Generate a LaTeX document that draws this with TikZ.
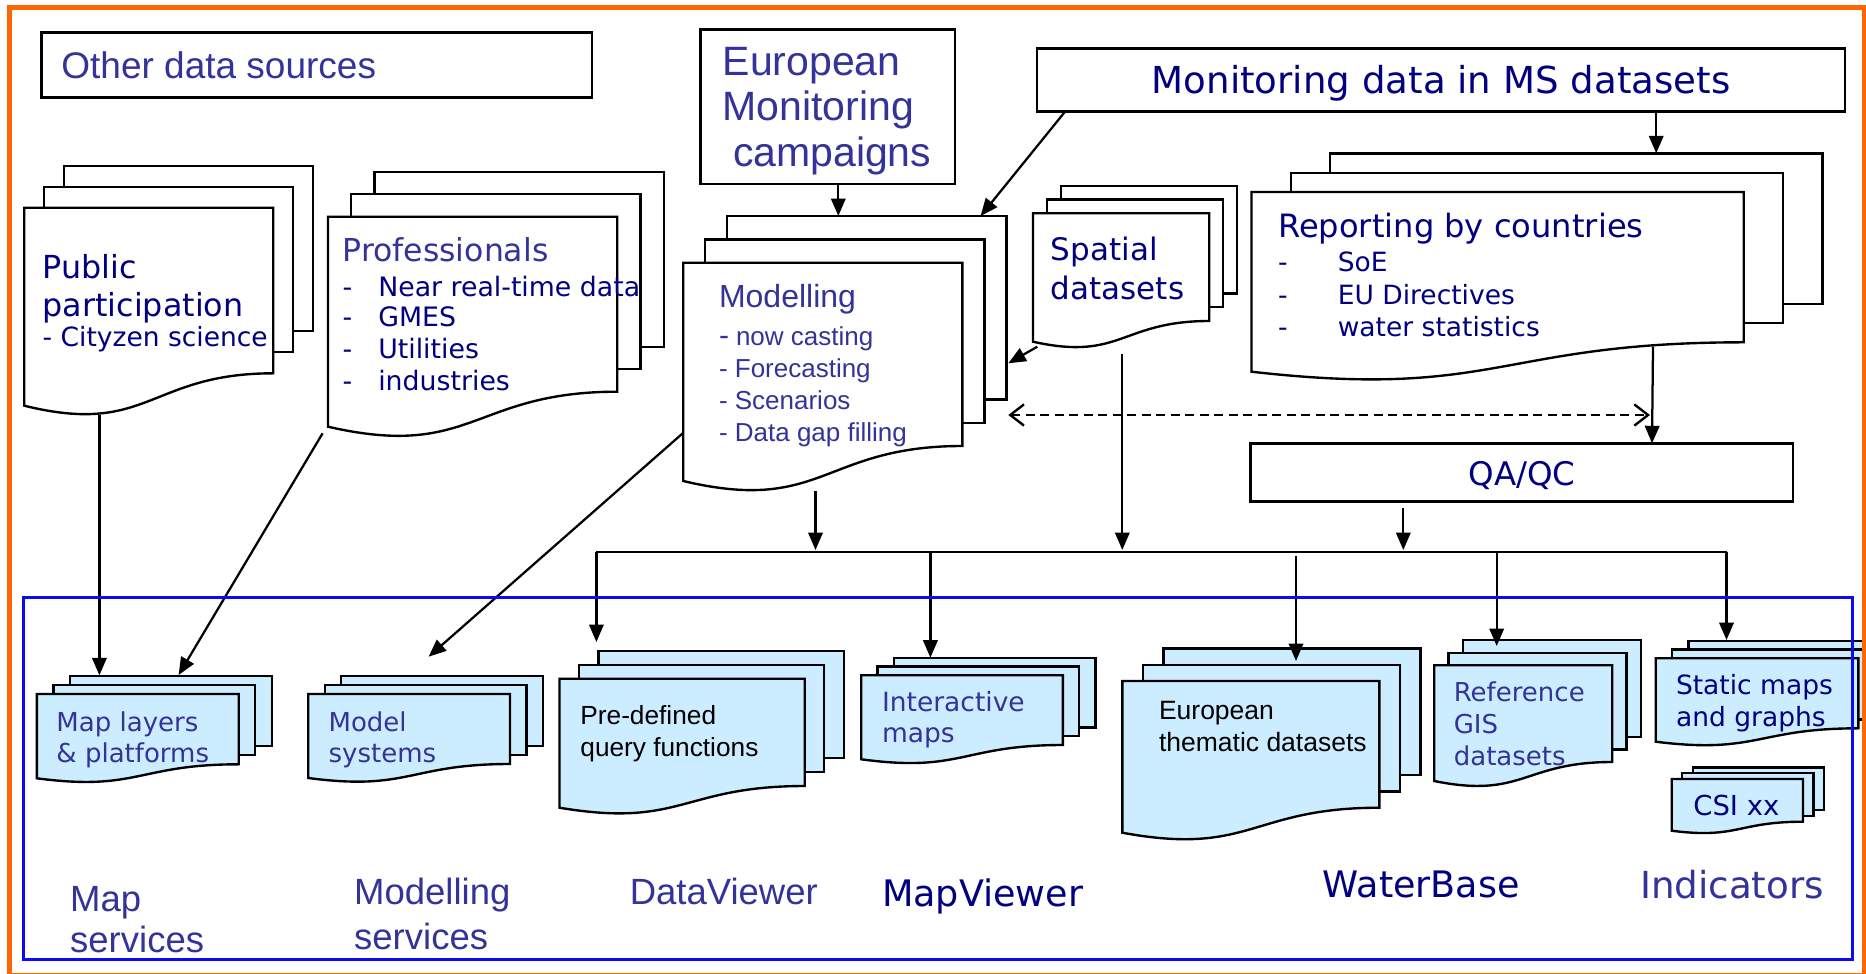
\documentclass[tikz,border=0pt]{standalone}
\usepackage{fontspec}
\setmainfont{Liberation Sans}
\newfontfamily\ver{DejaVu Sans}
\newfontfamily\ari{Liberation Sans}
\usetikzlibrary{arrows.meta}
\definecolor{navy}{RGB}{0,0,128}
\definecolor{cb}{RGB}{51,51,153}
\definecolor{lblue}{RGB}{204,236,255}
\definecolor{orng}{RGB}{255,102,0}
\definecolor{fblue}{RGB}{10,10,245}
% multi-document shape: x0, ytop, x1, yRight, yLeft, dx, dy, fill
\newcommand{\mdoc}[8]{%
  \draw[docline,fill=#8] ({#1+2*(#6)},{#2+2*(#7)}) rectangle ({#3+2*(#6)},{#4+2*(#7)});
  \draw[docline,fill=#8] ({#1+(#6)},{#2+(#7)}) rectangle ({#3+(#6)},{#4+(#7)});
  \draw[docline,fill=#8] (#1,#2) -- (#3,#2) -- (#3,#4)
     .. controls ({(#1+#3)/2},#4) and ({(#1+#3)/2},{#5+0.95*(#5-#4)}) .. (#1,#5) -- cycle;
}
\tikzset{
  tx/.style={anchor=base west, inner sep=0pt, outer sep=0pt},
  V/.style={font=\ver\fontsize{#1}{#1}\selectfont},
  A/.style={font=\ari\fontsize{#1}{#1}\selectfont},
  docline/.style={draw=black, line width=0.95pt},
  boxline/.style={draw=black, line width=1.1pt},
  conn/.style={line width=0.9pt, -{Triangle[length=7pt,width=5.8pt]}},
  plain/.style={line width=0.9pt},
  dconn/.style={line width=0.95pt, dash pattern=on 3.6pt off 2.2pt,
     {Straight Barb[length=5.5pt,width=8.5pt,line width=0.95pt]}-{Straight Barb[length=5.5pt,width=8.5pt,line width=0.95pt]}},
}
\begin{document}
\begin{tikzpicture}[x=0.4pt,y=-0.4pt]
\useasboundingbox (0,0) rectangle (1866,973);
\fill[white] (0,0) rectangle (1866,973);

% ---------- top boxes ----------
\draw[boxline] (41.5,32.3) rectangle (592,97.3);
\node[tx,A=14.8,text=cb] (ods) at (61.4,78.3) {Other data sources};

\draw[boxline] (700.7,29.3) rectangle (955,184);
\node[tx,A=16.4,text=cb] (emc1) at (722.7,75) {European};
\node[tx,A=16.4,text=cb] (emc2) at (722.7,120.7) {Monitoring};
\node[tx,A=16.4,text=cb] (emc3) at (733,166.7) {campaigns};

\draw[boxline] (1037,48.3) rectangle (1845,111.7);
\node[tx,V=14.85,text=navy] (mon) at (1151.8,93.3) {Monitoring data in MS datasets};

% ---------- top documents ----------
\mdoc{24.3}{207.7}{273.3}{373.3}{405.7}{20}{-21}{white}
\node[tx,V=12.7,text=navy] (pp1) at (42.7,278.3) {Public};
\node[tx,V=12.7,text=navy] (pp2) at (42.7,316) {participation};
\node[tx,V=10.6,text=navy] (pp3) at (42.7,346.7) {- Cityzen science};

\mdoc{328}{216.7}{617.3}{391.7}{426.7}{23.3}{-22.5}{white}
\node[tx,V=12.6,text=cb] (pr0) at (342.7,261.7) {Professionals};
\node[tx,V=10.7,text=navy] (prd1) at (342.7,296) {-};
\node[tx,V=10.7,text=navy] (prd2) at (342.7,326.7) {-};
\node[tx,V=10.7,text=navy] (prd3) at (342.7,358.3) {-};
\node[tx,V=10.7,text=navy] (prd4) at (342.7,390) {-};
\node[tx,V=10.7,text=navy] (pr1) at (378.3,296) {Near real-time data};
\node[tx,V=10.7,text=navy] (pr2) at (378.3,326.7) {GMES};
\node[tx,V=10.7,text=navy] (pr3) at (378.3,358.3) {Utilities};
\node[tx,V=10.7,text=navy] (pr4) at (378.3,390) {industries};

\mdoc{683.3}{262.7}{962.3}{446}{481}{22}{-23.3}{white}
\node[tx,A=12.8,text=cb] (md0) at (719,307.3) {Modelling};
\node[tx,A=10.4,text=cb] (md1) at (719,345.7) {{\fontsize{12}{12}\selectfont -}\hspace{2.8pt}now casting};
\node[tx,A=10.4,text=cb] (md2) at (719,377.7) {- Forecasting};
\node[tx,A=10.4,text=cb] (md3) at (719,409.3) {- Scenarios};
\node[tx,A=10.4,text=cb] (md4) at (719,441.7) {- Data gap filling};

\mdoc{1033}{213.3}{1209.2}{321}{341.7}{14}{-13.8}{white}
\node[tx,V=12.4,text=navy] (sp1) at (1050.9,260) {Spatial};
\node[tx,V=12.4,text=navy] (sp2) at (1050.9,299.3) {datasets};

\mdoc{1251.5}{192}{1743.7}{342.3}{371.7}{39.3}{-19.3}{white}
\node[tx,V=12.85,text=navy] (rp0) at (1278.2,237.3) {Reporting by countries};
\node[tx,V=10.6,text=navy] (rpd1) at (1278,271.7) {-};
\node[tx,V=10.6,text=navy] (rpd2) at (1278,304) {-};
\node[tx,V=10.6,text=navy] (rpd3) at (1278,336) {-};
\node[tx,V=10.6,text=navy] (rp1) at (1337.8,271.7) {SoE};
\node[tx,V=10.6,text=navy] (rp2) at (1337.8,304) {EU Directives};
\node[tx,V=10.6,text=navy] (rp3) at (1337.8,336) {water statistics};

\draw[boxline] (1250.7,443.3) rectangle (1793,501.5);
\node[anchor=base,inner sep=0pt,V=13,text=navy] (qa) at (1522,485.5) {QA/QC};

% ---------- bottom documents ----------
\mdoc{36.9}{694}{238.7}{764.3}{778.3}{16.5}{-9}{lblue}
\node[tx,V=10.4,text=cb] (ml1) at (56.5,731) {Map layers};
\node[tx,V=10.4,text=cb] (ml2) at (56.5,762.7) {\& platforms};

\mdoc{308.3}{694}{510}{764}{778}{16.5}{-9}{lblue}
\node[tx,V=10.4,text=cb] (ms1) at (328.6,731) {Model};
\node[tx,V=10.4,text=cb] (ms2) at (328.6,762.7) {systems};

\mdoc{559.5}{678.7}{804.8}{786}{807.7}{19.5}{-14}{lblue}
\node[tx,A=10.5,text=black] (pd1) at (580.4,724.3) {Pre-defined};
\node[tx,A=10.5,text=black] (pd2) at (580.4,756) {query functions};

\mdoc{861.3}{675.3}{1062.8}{745}{759.3}{16.3}{-8.8}{lblue}
\node[tx,V=10.6,text=cb] (im1) at (882,711) {Interactive};
\node[tx,V=10.6,text=cb] (im2) at (882,742.7) {maps};

\mdoc{1122.3}{681}{1379.4}{807.7}{832.7}{20.5}{-16.2}{lblue}
\node[tx,A=10.6,text=black] (et1) at (1159,719.3) {European};
\node[tx,A=10.6,text=black] (et2) at (1159,751.7) {thematic datasets};

\mdoc{1434.2}{665.3}{1612.2}{762}{781}{14.3}{-12.5}{lblue}
\node[tx,V=10.4,text=cb] (rg1) at (1453.8,701) {Reference};
\node[tx,V=10.4,text=cb] (rg2) at (1453.8,733.3) {GIS};
\node[tx,V=10.4,text=cb] (rg3) at (1453.8,765.3) {datasets};

\mdoc{1655.7}{658.3}{1858.3}{728.3}{741.7}{16.3}{-8.8}{lblue}
\node[tx,V=10.6,text=navy] (sm1) at (1676,694) {Static maps};
\node[tx,V=10.6,text=navy] (sm2) at (1676,726) {and graphs};

\mdoc{1671.7}{779}{1803}{821.7}{830.7}{10.5}{-5.7}{lblue}
\node[tx,V=11,text=navy] (csi) at (1693.3,815) {CSI xx};

% ---------- group labels ----------
\node[tx,A=14.6,text=cb] (L1a) at (70.2,911) {Map};
\node[tx,A=14.6,text=cb] (L1b) at (70.2,952.7) {services};
\node[tx,A=14.6,text=cb] (L2a) at (354.2,904.3) {Modelling};
\node[tx,A=14.6,text=cb] (L2b) at (354.2,949.3) {services};
\node[tx,A=14.6,text=cb] (L3) at (629.8,904.3) {DataViewer};
\node[tx,V=14.6,text=navy] (L4) at (882,906.7) {MapViewer};
\node[tx,V=14.6,text=navy] (L5) at (1322.9,897.7) {WaterBase};
\node[tx,V=14.9,text=cb] (L6) at (1640,898.7) {Indicators};

% ---------- connection points ----------
\coordinate (emcB) at (838.3,184);
\coordinate (modT) at (838.3,216);
\coordinate (monBL) at (1065,111.7);
\coordinate (modTR) at (980.6,216);
\coordinate (monB) at (1656.2,111.7);
\coordinate (repT) at (1656.2,153.3);
\coordinate (spaBL) at (1037.3,346.7);
\coordinate (modR) at (1008.3,363.3);
\coordinate (dL) at (1008.3,415);
\coordinate (dR) at (1650,415);
\coordinate (repB) at (1653,346.7);
\coordinate (qaT) at (1652,443.3);
\coordinate (spaB) at (1122.3,354);
\coordinate (spaBus) at (1122.3,550);
\coordinate (modB) at (815.5,491);
\coordinate (modBus) at (815.5,550);
\coordinate (qaB) at (1403.3,508.3);
\coordinate (qaBus) at (1403.3,550);
\coordinate (busL) at (596.4,551.7);
\coordinate (busR) at (1726.5,551.7);
\coordinate (bus2) at (930.4,551.7);
\coordinate (bus3) at (1296,556);
\coordinate (bus4) at (1496.7,551.7);
\coordinate (pdT) at (596.4,642);
\coordinate (imT) at (930.4,657.7);
\coordinate (etT) at (1296,661);
\coordinate (rgT) at (1496.7,646);
\coordinate (smT) at (1726.5,640);
\coordinate (ppB) at (99.4,415);
\coordinate (mlT1) at (99.4,675.3);
\coordinate (prB) at (322.6,433.3);
\coordinate (mlT2) at (178.6,675);
\coordinate (mdL) at (682.7,433.3);
\coordinate (msT) at (428.6,656.7);

% ---------- connectors ----------
\draw[conn] (emcB) -- (modT);
\draw[conn] (monBL) -- (modTR);
\draw[conn] (monB) -- (repT);
\draw[conn] (spaBL) -- (modR);
\draw[dconn] (dL) -- (dR);
\draw[conn] (repB) -- (qaT);
\draw[conn] (spaB) -- (spaBus);
\draw[conn] (modB) -- (modBus);
\draw[conn] (qaB) -- (qaBus);
\draw[plain] (busL) -- (busR);
\draw[conn] (busL) -- (pdT);
\draw[conn] (bus2) -- (imT);
\draw[conn] (bus3) -- (etT);
\draw[conn] (bus4) -- (rgT);
\draw[conn] (busR) -- (smT);
\draw[conn] (ppB) -- (mlT1);
\draw[conn] (prB) -- (mlT2);
\draw[conn] (mdL) -- (msT);

% ---------- frames ----------
\draw[fblue, line width=1.35pt] (23.8,597.7) rectangle (1852.5,959.3);
\draw[orng, line width=1.9pt] (9.5,7.5) rectangle (1864,975.5);
\end{tikzpicture}
\end{document}
